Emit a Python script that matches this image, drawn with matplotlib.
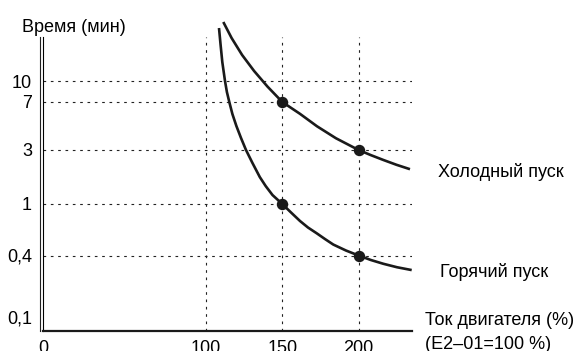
import numpy as np
import matplotlib
matplotlib.use("Agg")
import matplotlib.pyplot as plt
from matplotlib.transforms import offset_copy

plt.rcParams['font.family'] = ['Liberation Sans', 'DejaVu Sans']
plt.rcParams['font.size'] = 13

# Данные
x_ticks = [0, 100, 150, 200]
x_labels = ['0', '100', '150', '200']
y_ticks = [0.1, 0.4, 1, 3, 7, 10]
y_labels = ['0,1', '0,4', '1', '3', '7', '10']
y_grid = [0.4, 1, 3, 7, 10]
x_grid = [100, 150, 200]

# Холодный пуск
cold_x = [111.34, 116.78, 123.66, 131.52, 140.24, 150, 161.6, 172.74, 185.19,
          200, 208.13, 216.19, 224.84, 233.68]
cold_y = [28.29, 21.33, 15.82, 11.93, 9.11, 7, 5.68, 4.56, 3.69,
          3, 2.70, 2.45, 2.22, 2.03]
# Горячий пуск
hot_x = [108.52, 109.57, 110.68, 112.45, 113.70, 115.27, 117.30, 119.92, 122.94,
         126.21, 130.47, 135.26, 139.12, 143.58, 150, 155.05, 161.6, 166.84,
         172.54, 177.98, 183.42, 191.74, 200, 208.13, 216.19, 225.16, 234.8]
hot_y = [25.44, 18.86, 13.98, 10, 8.29, 7, 5.66, 4.58, 3.71,
         3, 2.30, 1.73, 1.44, 1.20, 1, 0.875, 0.739, 0.658,
         0.594, 0.536, 0.486, 0.437, 0.4, 0.361, 0.332, 0.307, 0.288]
dots_x = [150, 200, 150, 200]
dots_y = [7, 3, 1, 0.4]

# шкалы схемы неравномерные -> кусочная шкала
Y_LOGS = np.log10([0.08, 0.1, 0.4, 1, 3, 7, 10, 32])
Y_POS = [0, 14, 75.5, 127, 181, 229, 250, 316]
X_VALS = [0, 100, 235]
X_POS = [0, 163, 369]

def y_fwd(v):
    return np.interp(np.log10(np.clip(v, 1e-6, None)), Y_LOGS, Y_POS)

def y_inv(p):
    return 10 ** np.interp(p, Y_POS, Y_LOGS)

def x_fwd(v):
    return np.interp(v, X_VALS, X_POS)

def x_inv(p):
    return np.interp(p, X_POS, X_VALS)

W, H = 588, 351
fig = plt.figure(figsize=(W / 100, H / 100), dpi=100)
ax = fig.add_axes([43 / W, (H - 331) / H, (412 - 43) / W, (331 - 15) / H])
ax.set_xscale('function', functions=(x_fwd, x_inv))
ax.set_yscale('function', functions=(y_fwd, y_inv))
ax.set_xlim(0, 235)
ax.set_ylim(0.08, 32)

y_top = 21.7
grid_kw = dict(color='#222222', lw=0.8, linestyle=(0, (2.4, 4.2)))
ax.hlines(y_grid, 0, 235, **grid_kw)
ax.vlines(x_grid, 0.08, y_top, **grid_kw)

ax.plot(cold_x, cold_y, color='#1a1a1a', lw=1.9, clip_on=False, solid_capstyle='butt')
ax.plot(hot_x, hot_y, color='#1a1a1a', lw=1.9, clip_on=False, solid_capstyle='butt')
ax.plot(dots_x, dots_y, 'o', color='#1a1a1a', ms=7.2, zorder=5)

for s in ['top', 'right']:
    ax.spines[s].set_visible(False)
ax.spines['left'].set_linewidth(0.8)
ax.spines['left'].set_bounds(0.08, y_top)
ax.spines['bottom'].set_linewidth(1.6)
ax.spines['bottom'].set_color('#1a1a1a')
# двойная линия оси Y
tr = offset_copy(ax.transData, fig=fig, x=-2.6, y=0, units='dots')
ax.plot([0, 0], [0.08, y_top], color='#222222', lw=0.8, transform=tr, clip_on=False)

ax.set_xticks(x_ticks)
ax.set_xticklabels(x_labels)
ax.set_yticks(y_ticks)
ax.set_yticklabels(y_labels)
ax.tick_params(axis='both', length=0)
ax.tick_params(axis='y', pad=8)
ax.tick_params(axis='x', pad=6.5)

def px(x, y):
    return x / W, 1 - y / H

fig.text(*px(22, 27), 'Время (мин)', va='center', ha='left')
fig.text(*px(438, 177), 'Холодный пуск', va='baseline', ha='left')
fig.text(*px(440, 277), 'Горячий пуск', va='baseline', ha='left')
fig.text(*px(425, 325), 'Ток двигателя (%)', va='baseline', ha='left')
fig.text(*px(425, 349), '(E2–01=100 %)', va='baseline', ha='left')

fig.savefig('out.png', dpi=100)
